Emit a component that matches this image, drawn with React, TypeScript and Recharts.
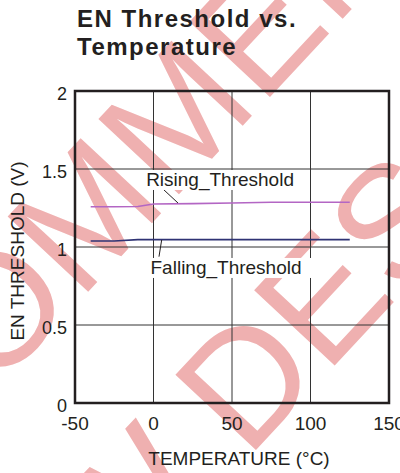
import React from 'react';
import {
  LineChart,
  Line,
  XAxis,
  YAxis,
  CartesianGrid,
  ReferenceArea,
  ReferenceLine,
  ReferenceDot,
} from 'recharts';

// temperature sweep (°C) and the two EN thresholds (V)
const temps = [-40, -25, -10, 0, 25, 50, 75, 100, 125];
const rising = [1.258, 1.258, 1.26, 1.276, 1.278, 1.282, 1.287, 1.287, 1.287];
const falling = [1.038, 1.038, 1.047, 1.047, 1.047, 1.047, 1.047, 1.047, 1.047];

const xTicks = [-50, 0, 50, 100, 150];
const yTicks = [0, 0.5, 1, 1.5, 2];

// callouts: text position and leader line (data units)
const callouts = [
  { text: 'Rising_Threshold', x: 42.4, y: 1.436, from: [6.0, 1.372], to: [15.6, 1.282] },
  { text: 'Falling_Threshold', x: 46.2, y: 0.872, from: [5.2, 1.045], to: [3.5, 0.938] },
];

const FONT = '"Liberation Sans", Arial, Helvetica, sans-serif';
const PINK = '#efb0b0';

const data = temps.map((t, i) => ({ t, rising: rising[i], falling: falling[i] }));

const Callout = ({ cx, cy, text }: any) => {
  const w = text.length * 9.9 + 4;
  return (
    <g>
      <rect x={cx - w / 2} y={cy - 9} width={w} height={20} fill="#fff" />
      <text
        x={cx}
        y={cy + 7}
        textAnchor="middle"
        fontSize={19}
        fontFamily={FONT}
        fill="#231f20"
      >
        {text}
      </text>
    </g>
  );
};

const Watermark = () => (
  <svg
    width={400}
    height={473}
    style={{ position: 'absolute', left: 0, top: 0 }}
  >
    <g transform="translate(-5,308) rotate(-47)">
      <text x={-400} y={57} fontSize={160} fontFamily={FONT} fill={PINK}>
        RECOMMENDED
      </text>
    </g>
    <g transform="translate(245,378) rotate(-47)">
      <text x={-476} y={57} fontSize={160} fontFamily={FONT} fill={PINK}>
        NEW DESIGNS
      </text>
    </g>
  </svg>
);

export default function App() {
  return (
    <div
      style={{
        position: 'absolute',
        left: 0,
        top: 0,
        width: 400,
        height: 473,
        background: '#fff',
        overflow: 'hidden',
        fontFamily: FONT,
      }}
    >
      <Watermark />
      <div
        style={{
          position: 'absolute',
          left: 77,
          top: 5,
          fontSize: 24,
          fontWeight: 'bold',
          lineHeight: '28px',
          letterSpacing: 1.5,
          color: '#231f20',
        }}
      >
        EN Threshold vs.
        <br />
        Temperature
      </div>
      <div style={{ position: 'absolute', left: 0, top: 0 }}>
        <LineChart
          width={400}
          height={473}
          data={data}
          margin={{ top: 91, right: 11, bottom: 0, left: 0 }}
        >
          <CartesianGrid stroke="#333" strokeWidth={1} />
          <XAxis
            dataKey="t"
            type="number"
            domain={[-50, 150]}
            ticks={xTicks}
            interval={0}
            height={70}
            tickLine={false}
            axisLine={false}
            tickMargin={8}
            tick={{ fontSize: 19, fill: '#231f20', fontFamily: FONT }}
            label={{
              content: ({ viewBox }: any) => (
                <text
                  x={viewBox.x + viewBox.width / 2 + 7}
                  y={465}
                  textAnchor="middle"
                  fontSize={19}
                  fontFamily={FONT}
                  fill="#231f20"
                >
                  TEMPERATURE (°C)
                </text>
              ),
            }}
          />
          <YAxis
            type="number"
            domain={[0, 2]}
            ticks={yTicks}
            interval={0}
            width={75}
            tickLine={false}
            axisLine={false}
            tick={{ fontSize: 18, fill: '#231f20', fontFamily: FONT, dy: 3 }}
            label={{
              content: () => (
                <text
                  x={24}
                  y={251}
                  transform="rotate(-90, 24, 251)"
                  textAnchor="middle"
                  fontSize={19}
                  fontFamily={FONT}
                  fill="#231f20"
                >
                  EN THRESHOLD (V)
                </text>
              ),
            }}
          />
          <Line
            dataKey="rising"
            stroke="#b366c4"
            strokeWidth={1.6}
            dot={false}
            isAnimationActive={false}
          />
          <Line
            dataKey="falling"
            stroke="#2f3374"
            strokeWidth={1.6}
            dot={false}
            isAnimationActive={false}
          />
          {callouts.map((c) => (
            <ReferenceLine
              key={c.text + '-leader'}
              segment={[
                { x: c.from[0], y: c.from[1] },
                { x: c.to[0], y: c.to[1] },
              ]}
              stroke="#231f20"
              strokeWidth={1}
            />
          ))}
          {callouts.map((c) => (
            <ReferenceDot
              key={c.text}
              x={c.x}
              y={c.y}
              r={0}
              shape={(p: any) => <Callout cx={p.cx} cy={p.cy} text={c.text} />}
            />
          ))}
          <ReferenceArea
            x1={-50}
            x2={150}
            y1={0}
            y2={2}
            fill="none"
            fillOpacity={0}
            stroke="#231f20"
            strokeWidth={2.5}
          />
        </LineChart>
      </div>
    </div>
  );
}
